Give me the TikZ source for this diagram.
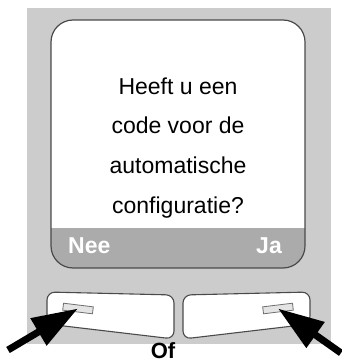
\documentclass[tikz,border=0pt]{standalone}
\usepackage{fontspec}
\setmainfont{Liberation Sans}
\usepackage{tikz}
\usetikzlibrary{positioning,arrows.meta}
\definecolor{palBg}{HTML}{CCCCCC}
\definecolor{palBand}{HTML}{ABABAB}
\definecolor{palEdge}{HTML}{4A4A4A}
\definecolor{palSlot}{HTML}{E4E4E4}
\tikzset{
  msgline/.style={anchor=base, font=\fontsize{23}{28}\selectfont, inner sep=0pt},
  softlbl/.style={font=\fontsize{23}{28}\selectfont\bfseries, text=white,
                  inner sep=0pt},
  keybtn/.style={draw=palEdge, fill=white, line width=1.1pt, rounded corners=8pt},
  slotbox/.style={draw=palEdge!80, fill=palSlot, minimum width=30pt,
                  minimum height=7pt, inner sep=0pt, line width=0.8pt},
  pointarrow/.style={-{Triangle[length=46pt,width=30pt]}, line width=7pt},
}
\begin{document}
\begin{tikzpicture}[x=1pt,y=-1pt]
\useasboundingbox (0,0) rectangle (341,363);
%% Housing
\fill[palBg] (27,8) rectangle (331,344);
%% Screen
\begin{scope}
  \clip[rounded corners=22pt] (51,20) rectangle (305,268);
  \fill[white] (51,20) rectangle (305,228);
  \fill[palBand] (51,228) rectangle (305,268);
\end{scope}
\draw[palEdge, line width=1.2pt, rounded corners=22pt] (51,20) rectangle (305,268);
%% Message
\node[msgline] (l1) at (178,95) {Heeft u een};
\node[msgline] (l2) at (178,134) {code voor de};
\node[msgline] (l3) at (178,173) {automatische};
\node[msgline] (l4) at (178,213) {configuratie?};
\node[softlbl, anchor=base west] (nee) at (68,253) {Nee};
\node[softlbl, anchor=base east] (ja) at (282,253) {Ja};
%% Keys
\draw[keybtn] (47,292) -- (174,295) -- (174,339) -- (47,324) -- cycle;
\draw[keybtn] (183,295) -- (310,292) -- (310,324) -- (183,339) -- cycle;
\node[slotbox, rotate=-7] (lslot) at (78,308.5) {};
\node[slotbox, rotate=7] (rslot) at (278,308.5) {};
%% Arrows
\coordinate (ltail) at (8,350);
\coordinate (rtail) at (341,353);
\draw[pointarrow] (ltail) -- (lslot.center);
\draw[pointarrow] (rtail) -- (rslot.center);
\node[anchor=base, font=\fontsize{22}{28}\selectfont\bfseries, inner sep=0pt]
  (orlbl) at (163,358) {Of};
\end{tikzpicture}
\end{document}
